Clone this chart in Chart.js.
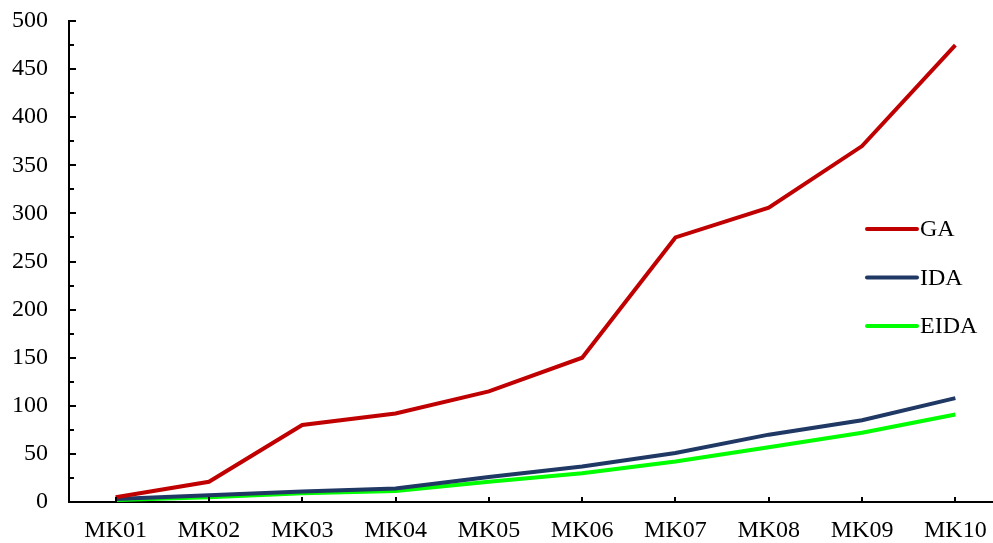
<!DOCTYPE html>
<html>
<head>
<meta charset="utf-8">
<script src="https://cdn.jsdelivr.net/npm/chart.js@4.4.1/dist/chart.umd.min.js"></script>
<style>
  html, body { margin: 0; padding: 0; background: #fff; overflow: hidden; }
  #wrap { width: 993px; height: 543px; overflow: hidden; }
</style>
</head>
<body>
<div id="wrap"><canvas id="grafica" width="1002" height="543"></canvas></div>
<script>
// datos
const categorias = ["MK01", "MK02", "MK03", "MK04", "MK05", "MK06", "MK07", "MK08", "MK09", "MK10"];
const valoresGA = [5, 21, 80, 92, 115, 150, 275, 306, 370, 475];
const valoresIDA = [3, 7, 11, 14, 26, 37, 51, 70, 85, 108];
const valoresEIDA = [2, 5, 9, 11.5, 21, 30, 42, 57, 72, 91];
const ticksY = [0, 50, 100, 150, 200, 250, 300, 350, 400, 450, 500];

const FUENTE = '"Liberation Serif", "Times New Roman", serif';
const TAM = 24;

// marcas de eje hacia dentro (estilo Excel)
const marcasInternas = {
  id: "marcasInternas",
  afterDraw(chart) {
    const { ctx, scales } = chart;
    const x = scales.x, y = scales.y;
    ctx.save();
    ctx.strokeStyle = "#000";
    ctx.lineWidth = 2;
    // y: mayores cada 50, menores cada 25
    for (let v = 0; v <= 500; v += 25) {
      const py = Math.round(y.getPixelForValue(v));
      const largo = v % 50 === 0 ? 7 : 5;
      ctx.beginPath();
      ctx.moveTo(x.left, py);
      ctx.lineTo(x.left + largo, py);
      ctx.stroke();
    }
    // x: marcas en el centro de cada categoria
    categorias.forEach((c, i) => {
      const px = Math.round(x.getPixelForValue(i));
      ctx.beginPath();
      ctx.moveTo(px, y.bottom);
      ctx.lineTo(px, y.bottom - 5);
      ctx.stroke();
    });
    ctx.restore();
  },
};

// leyenda dentro del area, a la derecha
const leyendaPropia = {
  id: "leyendaPropia",
  afterDraw(chart) {
    const { ctx } = chart;
    ctx.save();
    ctx.font = TAM + "px " + FUENTE;
    ctx.textBaseline = "middle";
    ctx.textAlign = "left";
    chart.data.datasets.forEach((ds, i) => {
      const yy = 229 + i * 48.5;
      ctx.strokeStyle = ds.borderColor;
      ctx.lineWidth = 4;
      ctx.lineCap = "round";
      ctx.beginPath();
      ctx.moveTo(867, yy);
      ctx.lineTo(917, yy);
      ctx.stroke();
      ctx.fillStyle = "#000";
      ctx.fillText(ds.label, 920, yy + 1);
    });
    ctx.restore();
  },
};

const ctx = document.getElementById("grafica").getContext("2d");

new Chart(ctx, {
  type: "line",
  data: {
    labels: categorias,
    datasets: [
      { label: "GA", data: valoresGA, borderColor: "#C00000" },
      { label: "IDA", data: valoresIDA, borderColor: "#1F3864" },
      { label: "EIDA", data: valoresEIDA, borderColor: "#00FF00" },
    ].map((d) => ({
      ...d,
      borderWidth: 4,
      pointRadius: 0,
      tension: 0,
      fill: false,
      borderJoinStyle: "miter",
    })),
  },
  options: {
    responsive: false,
    animation: false,
    layout: { padding: { top: 21, right: 0, left: 0, bottom: 0 } },
    plugins: {
      legend: { display: false },
      tooltip: { enabled: false },
    },
    scales: {
      x: {
        type: "category",
        offset: true,
        grid: { display: false, drawTicks: false },
        border: { display: true, color: "#000", width: 2 },
        ticks: {
          color: "#000",
          font: { family: FUENTE, size: TAM },
          padding: 14,
          maxRotation: 0,
          autoSkip: false,
        },
        afterFit(scale) {
          scale.height = 41;
          scale.paddingLeft = 0;
          scale.paddingRight = 0;
        },
      },
      y: {
        min: 0,
        max: 500,
        afterBuildTicks(scale) { scale.ticks = ticksY.map((v) => ({ value: v })); },
        grid: { display: false, drawTicks: false },
        border: { display: true, color: "#000", width: 2 },
        ticks: {
          color: "#000",
          font: { family: FUENTE, size: TAM },
          padding: 21,
        },
        afterFit(scale) {
          scale.width = 69;
          scale.paddingTop = 0;
          scale.paddingBottom = 0;
        },
      },
    },
  },
  plugins: [marcasInternas, leyendaPropia],
});
</script>
</body>
</html>
